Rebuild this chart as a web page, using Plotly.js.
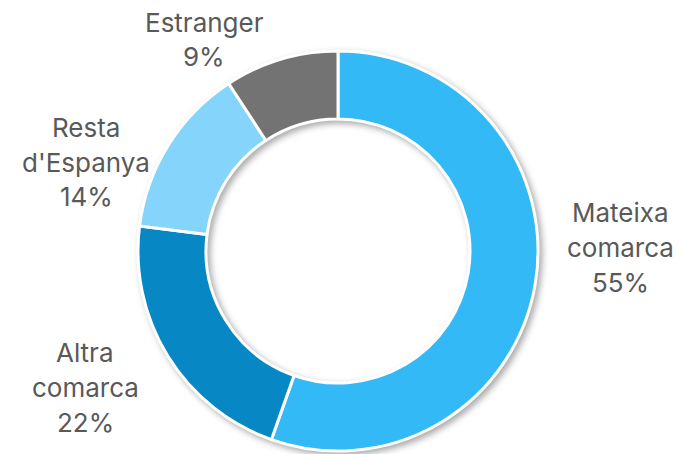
<!DOCTYPE html>
<html>
<head>
<meta charset="utf-8">
<script src="https://cdn.plot.ly/plotly-3.0.1.min.js"></script>
<style>
html,body{margin:0;padding:0;background:#fff;}
#chart{width:684px;height:454px;}
.pielayer{filter:drop-shadow(3px 3px 3px rgba(0,0,0,0.33));}
</style>
</head>
<body>
<div id="chart"></div>
<script>
const categories = ["Mateixa comarca", "Altra comarca", "Resta d'Espanya", "Estranger"];
const labelLines = [["Mateixa", "comarca"], ["Altra", "comarca"], ["Resta", "d'Espanya"], ["Estranger"]];
const values = [55.4, 21.6, 13.8, 9.2];
const colors = ["#33b9f6", "#0787c3", "#84d4fb", "#737373"];
// label anchor: [center x, first line center y] in pixels, for each category
const labelPos = [[620, 212], [85, 352], [86, 127], [204, 22]];
const lineGap = 35;

const W = 684, H = 454;
const total = values.reduce((a, b) => a + b, 0);

const annotations = [];
categories.forEach((c, i) => {
  const pct = Math.round(values[i] / total * 100) + "%";
  labelLines[i].concat([pct]).forEach((t, k) => {
    annotations.push({
      x: labelPos[i][0] / W, y: 1 - (labelPos[i][1] + k * lineGap) / H,
      xref: "paper", yref: "paper", xanchor: "center", yanchor: "middle",
      showarrow: false, align: "center", text: t,
      font: {family: "Inter, 'Open Sans', sans-serif", size: 26, color: "#595959"}
    });
  });
});

const cx = 338, cy = 251, r = 200;
const trace = {
  type: "pie",
  labels: categories,
  values: values,
  sort: false,
  direction: "clockwise",
  rotation: 0,
  hole: 0.66,
  textinfo: "none",
  marker: {colors: colors, line: {color: "#ffffff", width: 3}},
  domain: {x: [(cx - r) / W, (cx + r) / W], y: [1 - (cy + r) / H, 1 - (cy - r) / H]},
  showlegend: false,
  hoverinfo: "label+percent"
};

Plotly.newPlot("chart", [trace], {
  width: W, height: H,
  margin: {l: 0, r: 0, t: 0, b: 0},
  paper_bgcolor: "#ffffff",
  showlegend: false,
  annotations: annotations
}, {displayModeBar: false, staticPlot: true});
</script>
</body>
</html>
